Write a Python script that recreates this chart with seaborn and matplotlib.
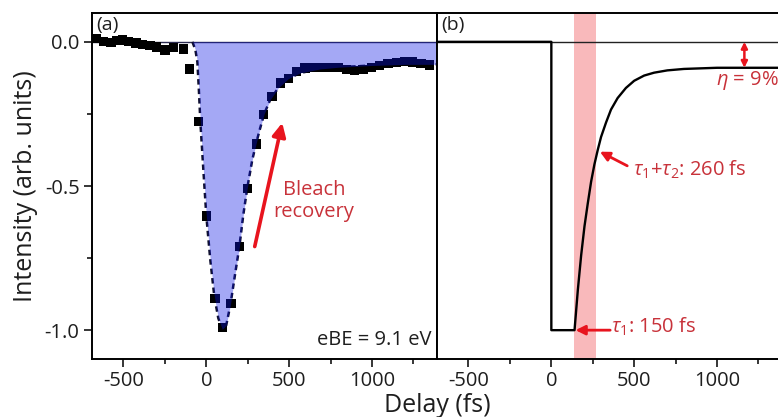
import matplotlib
matplotlib.use("Agg")
import matplotlib.pyplot as plt
import seaborn as sns
import pandas as pd

# ---------------- data ----------------
# panel (a): measured bleach signal
delay_a = [-665, -620, -575, -540, -505, -470, -425, -385, -340, -300, -250, -200,
           -140, -100, -46, 0, 52, 98, 149, 201, 249, 301, 345, 396, 446, 496, 546,
           596, 646, 696, 746, 796, 846, 896, 946, 996, 1046, 1096, 1146, 1196, 1246,
           1296, 1346]
intensity_a = [0.012, 0.0, -0.003, 0.004, 0.006, 0.002, -0.004, -0.008, -0.012, -0.018,
               -0.028, -0.02, -0.025, -0.094, -0.277, -0.604, -0.89, -0.992, -0.907,
               -0.711, -0.508, -0.354, -0.253, -0.19, -0.143, -0.126, -0.103, -0.091,
               -0.09, -0.088, -0.088, -0.09, -0.097, -0.1, -0.095, -0.088, -0.082,
               -0.075, -0.072, -0.068, -0.07, -0.075, -0.08]

# panel (a): fit curve (dashed)
fit_delay = [-84, -66, -54, -45, -36, -18, 0, 24, 48, 72, 96, 120, 145, 175, 199, 223,
             247, 277, 301, 325, 349, 386, 434, 494, 566, 687, 800, 1000, 1200, 1392]
fit_int = [0.0, -0.028, -0.07, -0.167, -0.278, -0.444, -0.604, -0.757, -0.882, -0.958,
           -0.997, -0.983, -0.913, -0.80, -0.712, -0.60, -0.507, -0.41, -0.351, -0.299,
           -0.25, -0.20, -0.16, -0.128, -0.108, -0.094, -0.088, -0.082, -0.078, -0.078]

# panel (b): model curve
model_delay = [-690, 0, 0, 140, 160, 180, 200, 220, 240, 260, 280, 300, 330, 360, 400,
               450, 500, 560, 620, 700, 800, 900, 1000, 1200, 1392]
model_int = [0.0, 0.0, -1.0, -1.0, -0.86, -0.74, -0.64, -0.56, -0.485, -0.425, -0.375,
             -0.33, -0.28, -0.235, -0.195, -0.16, -0.135, -0.117, -0.107, -0.099,
             -0.094, -0.092, -0.09, -0.09, -0.09]

band_range = [136, 270]
eta_level = -0.09

x_ticks = [-500, 0, 500, 1000]
x_minor = [-250, 250, 750, 1250]
y_ticks = [0.0, -0.5, -1.0]
y_tick_labels = ["0.0", "-0.5", "-1.0"]
y_minor = [-0.25, -0.75]

# ---------------- style ----------------
sns.set_theme(style="ticks")
plt.rcParams["font.family"] = ["Open Sans", "DejaVu Sans"]
plt.rcParams["mathtext.fontset"] = "custom"
plt.rcParams["mathtext.rm"] = "Open Sans"
plt.rcParams["mathtext.it"] = "Open Sans:italic"
plt.rcParams["axes.unicode_minus"] = False

TXT = "#1e1e1e"
RED_T = "#c8323a"
RED_A = "#e8141e"

fig = plt.figure(figsize=(7.78, 4.17), dpi=100)
W, H = 778, 417
ax_a = fig.add_axes([92 / W, 1 - 359 / H, 345 / W, 346 / H])
ax_b = fig.add_axes([437 / W, 1 - 359 / H, 345 / W, 346 / H])

xlim = (-690, 1392)
ylim = (-1.10, 0.10)

df_a = pd.DataFrame({"delay": delay_a, "intensity": intensity_a})
df_fit = pd.DataFrame({"delay": fit_delay, "intensity": fit_int})
df_b = pd.DataFrame({"delay": model_delay, "intensity": model_int})

# ----- panel (a) -----
ax_a.axhline(0, color="#2a2a50", lw=1.0, zorder=1)
sns.lineplot(data=df_fit, x="delay", y="intensity", ax=ax_a, color="#101030",
             lw=1.8, linestyle=(0, (2.2, 1.6)), estimator=None, sort=False, zorder=2)
sns.scatterplot(data=df_a, x="delay", y="intensity", ax=ax_a, marker="s", s=44,
                color="black", edgecolor="none", linewidth=0, zorder=3)
ax_a.fill_between(df_fit["delay"], df_fit["intensity"], 0, color="#0a14e6",
                  alpha=0.37, lw=0, zorder=4)

ax_a.annotate("", xy=(458, -0.281), xytext=(292, -0.71),
              arrowprops=dict(arrowstyle="-|>", color=RED_A, lw=2.6,
                              mutation_scale=20, shrinkA=0, shrinkB=0), zorder=6)
ax_a.text(650, -0.552, "Bleach\nrecovery", color=RED_T, fontsize=14.5,
          ha="center", va="center", linespacing=1.15, zorder=6)
ax_a.text(0.985, 0.025, "eBE = 9.1 eV", transform=ax_a.transAxes, ha="right",
          va="bottom", fontsize=14.5, color=TXT)
ax_a.text(0.012, 0.99, "(a)", transform=ax_a.transAxes, ha="left", va="top",
          fontsize=14, color=TXT)

# ----- panel (b) -----
ax_b.axvspan(band_range[0], band_range[1], color="#f9b9bb", lw=0, zorder=0)
ax_b.axhline(0, color="#222222", lw=1.0, zorder=1)
sns.lineplot(data=df_b, x="delay", y="intensity", ax=ax_b, color="black", lw=1.7,
             estimator=None, sort=False, zorder=3)

ax_b.annotate("", xy=(293, -0.381), xytext=(458, -0.43),
              arrowprops=dict(arrowstyle="-|>", color=RED_A, lw=2.0,
                              mutation_scale=14, shrinkA=0, shrinkB=0), zorder=6)
ax_b.text(490, -0.444, r"$\tau_1$+$\tau_2$: 260 fs", color=RED_T, fontsize=14.5,
          ha="left", va="center", zorder=6)
ax_b.annotate("", xy=(146, -1.0), xytext=(355, -1.0),
              arrowprops=dict(arrowstyle="-|>", color=RED_A, lw=2.0,
                              mutation_scale=14, shrinkA=0, shrinkB=0), zorder=6)
ax_b.text(362, -0.99, r"$\tau_1$: 150 fs", color=RED_T, fontsize=14.5,
          ha="left", va="center", zorder=6)
ax_b.annotate("", xy=(1165, eta_level), xytext=(1165, 0.0),
              arrowprops=dict(arrowstyle="<|-|>", color=RED_A, lw=1.8,
                              mutation_scale=9, shrinkA=0, shrinkB=0), zorder=6)
ax_b.text(995, -0.135, r"$\eta$ = 9%", color=RED_T, fontsize=14.5,
          ha="left", va="center", zorder=6)
ax_b.text(0.012, 0.99, "(b)", transform=ax_b.transAxes, ha="left", va="top",
          fontsize=14, color=TXT)

# ----- axes formatting -----
for ax in (ax_a, ax_b):
    ax.set_xlim(*xlim)
    ax.set_ylim(*ylim)
    ax.set_xticks(x_ticks)
    ax.set_xticklabels([str(t) for t in x_ticks])
    ax.set_xticks(x_minor, minor=True)
    ax.set_yticks(y_ticks)
    ax.set_yticks(y_minor, minor=True)
    ax.set_xlabel("")
    ax.set_ylabel("")
    for sp in ax.spines.values():
        sp.set_visible(True)
        sp.set_linewidth(1.4)
        sp.set_color("black")
    ax.tick_params(axis="both", which="major", direction="out", length=6, width=1.1,
                   labelsize=14.5, labelcolor=TXT, color="black", pad=3)
    ax.tick_params(axis="both", which="minor", direction="out", length=3.5, width=1.1,
                   color="black")
    ax.tick_params(axis="x", which="both", top=False, bottom=True)

ax_a.set_yticklabels(y_tick_labels)
ax_a.tick_params(axis="y", which="both", left=True, right=True)
ax_b.tick_params(axis="y", which="both", left=False, right=True, labelleft=False)

ax_a.set_ylabel("Intensity (arb. units)", fontsize=18, color=TXT, labelpad=5)
fig.text(437 / W, 1 - 405 / H, "Delay (fs)", ha="center", va="center", fontsize=18,
         color=TXT)

fig.savefig("out.png", dpi=100)
